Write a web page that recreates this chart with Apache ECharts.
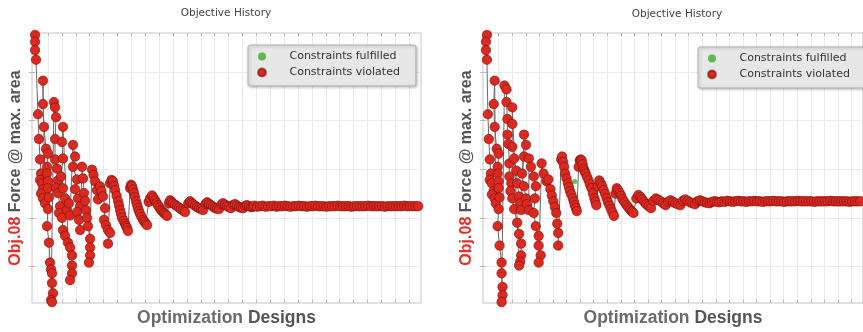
<!DOCTYPE html>
<html>
<head>
<meta charset="utf-8">
<title>Objective History</title>
<script src="https://cdn.jsdelivr.net/npm/echarts@6/dist/echarts.min.js"></script>
<style>
    html, body { margin: 0; padding: 0; background: #fff; }
    #chart { width: 863px; height: 332px; }
</style>
</head>
<body>
<div id="chart"></div>
<script>
// legend entries / axis ticks (no tick labels are shown in the original)
const legendNames = ['Constraints fulfilled', 'Constraints violated'];
const xTicks = [11.5, 21.5, 31.5, 41.5, 51.5, 61.5, 71.5, 81.5, 91.5, 101.5, 111.5, 121.5, 131.5, 141.5,
    151.5, 161.5, 171.5, 181.5, 191.5, 201.5, 211.5, 221.5, 231.5, 241.5, 251.5, 261.5, 271.5];
const yTicks = [1, 2, 3, 4, 5];

// left run: [design, objective]
const leftViolated = [
    [2.2,5.76],[2.2,5.62],[2.2,5.45],[2.9,5.25],[4.3,4.13],[5.0,3.62],[5.8,3.20],[6.5,2.91],[5.8,2.78],[7.2,2.71],[7.9,2.59],[6.5,2.50],[7.9,2.40],[9.4,2.30],
    [7.9,4.82],[7.9,4.34],[8.6,3.87],[10.1,3.42],[11.5,3.32],[10.8,3.05],[10.8,2.91],[11.5,2.75],[11.5,2.61],[12.2,2.42],[11.5,2.18],[10.8,1.83],[12.2,1.49],[13.0,1.08],[13.7,0.94],[14.4,0.86],[14.4,0.66],[15.1,0.45],[13.7,0.31],[14.4,0.27],
    [15.8,4.38],[16.6,4.27],[17.3,4.07],[16.6,3.62],[16.6,3.20],[18.0,3.01],[18.7,2.77],[17.3,2.62],[18.7,2.51],[20.2,2.24],[19.4,2.10],[21.6,2.00],[22.3,1.75],[23.8,1.63],[25.9,1.49],[27.4,1.39],[28.8,1.23],[28.8,1.02],[28.8,0.86],[27.4,0.72],
    [22.3,3.87],[21.6,3.56],[22.3,3.22],[20.9,2.85],[22.3,2.61],[23.8,2.40],[25.2,2.16],[26.6,2.30],[27.4,2.05],
    [29.5,3.50],[31.0,3.26],[29.5,3.05],[32.4,2.79],[31.0,2.59],[33.1,2.40],[34.6,2.24],[32.4,2.12],[33.8,1.96],[34.6,1.75],
    [36.0,3.05],[36.7,2.81],[37.4,2.51],[38.2,2.35],[38.9,2.16],[39.6,2.00],[40.3,1.83],[41.8,1.57],[41.8,1.39],[41.8,1.23],[41.0,1.08],
    [43.2,2.99],[44.3,2.88],[45.4,2.75],[46.8,2.57],[47.5,2.38],[49.0,2.65],[50.0,2.55],[51.1,2.44],[52.6,2.20],[51.8,1.96],[53.2,1.85],[54.7,1.75],[56.2,1.69],[54.7,1.47],
    [56.2,2.71],[57.2,2.78],[58.3,2.75],[59.1,2.66],[59.8,2.57],[60.9,2.45],[62.0,2.34],[62.7,2.25],[63.4,2.16],[64.1,2.08],[64.8,2.00],[65.9,1.94],[67.0,1.88],[67.7,1.83],[68.4,1.79],[69.1,1.73],
    [70.6,2.61],[71.3,2.68],[72.0,2.65],[72.7,2.58],[73.4,2.51],[74.1,2.43],[74.9,2.34],[75.6,2.27],[76.3,2.20],[77.0,2.14],[77.8,2.08],[78.8,2.02],[79.9,1.96],[81.0,1.92],[81.9,1.88],[82.8,1.85],
    [84.0,2.33],[85.0,2.40],[86.4,2.46],[87.5,2.41],[88.6,2.36],[89.6,2.31],[90.7,2.26],[91.8,2.21],[92.9,2.16],[94.0,2.13],[95.0,2.10],[96.1,2.07],[97.2,2.04],
    [98.5,2.30],[99.4,2.36],[100.4,2.33],[101.5,2.30],[102.9,2.27],[104.4,2.24],[105.8,2.21],[107.3,2.18],[108.7,2.15],[110.2,2.12],
    [112.5,2.30],[113.8,2.34],[114.8,2.31],[115.9,2.28],[117.3,2.25],[118.8,2.22],[120.2,2.20],[121.7,2.18],[123.1,2.16],
    [125.0,2.29],[126.0,2.32],[127.4,2.29],[128.9,2.26],[130.3,2.23],[131.8,2.20],[133.2,2.19],[134.6,2.18],
    [136.5,2.28],[137.5,2.30],[139.0,2.27],[140.4,2.24],[141.8,2.22],[143.3,2.20],
    [145.0,2.27],[146.2,2.28],[147.6,2.25],[149.0,2.22],[150.5,2.21],[152.0,2.20],
    [153.8,2.25],[154.8,2.26],[156.2,2.24],[157.7,2.22],[159.0,2.23],
    [160,2.25],[162,2.23],[164,2.24],[166,2.25],[168,2.23],[170,2.24],[172,2.24],[174,2.25],[176,2.23],[178,2.24],
    [180,2.24],[182,2.25],[184,2.24],[186,2.23],[188,2.24],[190,2.24],[192,2.25],[194,2.24],[196,2.24],[198,2.23],
    [200,2.24],[202,2.24],[204,2.25],[206,2.24],[208,2.24],[210,2.24],[212,2.23],[214,2.24],[216,2.24],[218,2.24],
    [220,2.25],[222,2.24],[224,2.24],[226,2.24],[228,2.24],[230,2.23],[232,2.24],[234,2.24],[236,2.24],[238,2.24],
    [240,2.24],[242,2.25],[244,2.24],[246,2.24],[248,2.24],[250,2.24],[252,2.24],[254,2.23],[256,2.24],[258,2.24],
    [260,2.24],[262,2.24],[264,2.24],[266,2.24],[268,2.25],[270,2.24],[272,2.24],[274,2.24],[276,2.24],[278,2.24]
];
const leftFulfilled = [];

// right run
const rightViolated = [
    [2.9,5.76],[2.2,5.62],[2.2,5.45],[2.9,5.25],[3.6,4.13],[4.3,3.62],[5.0,3.20],[5.8,2.91],[5.0,2.78],[6.5,2.71],[7.9,2.55],[6.5,2.48],[8.6,2.40],[9.4,2.30],
    [8.6,4.82],[7.9,4.34],[8.6,3.87],[10.1,3.42],[11.5,3.32],[10.8,3.05],[10.8,2.91],[11.5,2.75],[11.5,2.61],[12.2,2.42],[11.5,2.18],[10.8,1.83],[12.2,1.43],[13.7,1.08],[13.7,0.86],[14.4,0.58],[14.4,0.41],[13.7,0.27],
    [15.8,4.72],[17.3,4.64],[17.3,4.38],[18.0,4.03],[18.0,3.71],[18.7,3.52],[19.4,3.12],[19.4,2.85],[20.9,2.71],[20.2,2.55],[21.6,2.40],[23.0,2.18],[25.2,1.90],[26.6,1.67],[28.1,1.47],[28.1,1.23],[27.4,1.10],[26.6,1.02],
    [21.6,4.27],[21.6,3.93],[21.6,3.46],[23.0,3.22],[24.5,2.97],[25.2,2.71],[26.6,2.44],[27.4,2.30],[28.1,2.16],
    [30.2,3.71],[31.7,3.50],[30.2,3.26],[28.8,2.91],[30.2,2.65],[31.7,2.40],[32.4,2.28],[33.8,2.16],
    [33.8,3.22],[35.3,3.05],[37.4,2.85],[38.9,2.65],[38.2,2.40],[37.4,2.10],[38.9,1.83],[41.0,1.63],[41.0,1.43],[42.5,1.23],[41.0,1.08],
    [43.2,3.12],[44.6,2.91],[46.8,2.75],[48.2,2.79],[49.7,2.59],[50.7,2.46],[51.8,2.34],[53.0,2.22],[54.0,2.10],[54.7,1.88],[55.4,1.69],[55.4,1.43],
    [57.6,3.20],[58.3,3.26],[59.0,3.15],[59.8,3.05],[60.5,2.91],[61.5,2.81],[62.6,2.71],[63.3,2.63],[64.1,2.55],[65.1,2.48],[66.2,2.40],[67.0,2.33],[67.7,2.26],[68.4,2.20],[69.1,2.14],
    [70.5,3.05],[71.3,3.18],[72.0,3.20],[72.7,3.18],[73.4,3.10],[74.2,3.01],[74.9,2.96],[75.6,2.91],[76.7,2.84],[77.8,2.77],[78.8,2.69],[79.9,2.61],[81.0,2.50],[82.1,2.40],[82.8,2.33],[83.5,2.26],
    [84.6,2.65],[85.7,2.77],[86.8,2.71],[87.8,2.65],[88.9,2.57],[90.0,2.49],[91.1,2.40],[92.2,2.32],[93.3,2.25],[94.3,2.18],[95.4,2.11],[96.5,2.04],
    [97.6,2.50],[98.6,2.61],[99.7,2.56],[100.8,2.51],[101.8,2.45],[102.9,2.38],[104.3,2.32],[105.8,2.26],[107.2,2.21],[108.7,2.16],[109.8,2.13],[110.9,2.10],
    [113.0,2.40],[114.5,2.47],[116.0,2.43],[117.4,2.38],[118.8,2.33],[120.2,2.28],[122.0,2.24],[123.8,2.20],
    [125.6,2.35],[127.4,2.40],[129.2,2.37],[131.0,2.34],[132.8,2.30],[134.6,2.26],
    [136.4,2.33],[138.2,2.36],[140.0,2.33],[141.8,2.30],[143.6,2.28],[145.4,2.26],
    [147.2,2.35],[149.0,2.38],[150.8,2.35],[152.6,2.32],[154.4,2.30],[156.2,2.28],
    [158.0,2.34],[159.8,2.36],[161.6,2.34],[163.4,2.32],[165.2,2.31],[167.0,2.30],
    [168.8,2.33],[170.6,2.34],[172.4,2.33],[174.2,2.32],
    [176,2.34],[178,2.33],[180,2.35],[182,2.34],[184,2.33],[186,2.34],[188,2.35],[190,2.34],[192,2.34],[194,2.33],
    [196,2.34],[198,2.34],[200,2.35],[202,2.34],[204,2.34],[206,2.33],[208,2.34],[210,2.34],[212,2.34],[214,2.35],
    [216,2.34],[218,2.34],[220,2.34],[222,2.33],[224,2.34],[226,2.34],[228,2.34],[230,2.34],[232,2.35],[234,2.34],
    [236,2.34],[238,2.34],[240,2.34],[242,2.34],[244,2.33],[246,2.34],[248,2.34],[250,2.34],[252,2.34],[254,2.34],
    [256,2.35],[258,2.34],[260,2.34],[262,2.34],[264,2.34],[266,2.34],[268,2.34],[270,2.33],[272,2.34],[274,2.34],
    [276,2.34],[278,2.34]
];
const rightFulfilled = [[67.7, 2.75]];

const FONT = 'Liberation Sans, Arial, sans-serif';
const SMALL_FONT = 'DejaVu Sans, Verdana, sans-serif';
const RED = '#da2a20';
const GREEN = '#3fae2a';

// one panel = grid + 2 x axes (bottom/top) + 2 y axes (left/right)
function panelAxes(gridIndex) {
    const tick = { show: true, inside: true, length: 3, lineStyle: { color: '#b8b8b8' } };
    const xs = [
        {
            type: 'value', gridIndex: gridIndex, min: 0, max: 280,
            name: '{a|Optimization} {b|Designs}',
            nameLocation: 'middle', nameGap: 6,
            nameTextStyle: {
                fontSize: 17.5, fontFamily: FONT,
                rich: {
                    a: { fontSize: 17.5, fontWeight: 'bold', color: '#6a6a6a', fontFamily: FONT },
                    b: { fontSize: 17.5, fontWeight: 'bold', color: '#555', fontFamily: FONT }
                }
            },
            axisLine: { show: false },
            axisTick: Object.assign({ customValues: xTicks }, tick),
            axisLabel: { show: false },
            splitLine: { show: true, lineStyle: { color: '#ebebeb', width: 1 } }
        },
        {
            type: 'value', gridIndex: gridIndex, min: 0, max: 280, position: 'top',
            axisLine: { show: false },
            axisTick: Object.assign({ customValues: xTicks }, tick),
            axisLabel: { show: false },
            splitLine: { show: false }
        }
    ];
    const ys = [
        {
            type: 'value', gridIndex: gridIndex, min: 0.25, max: 5.8,
            name: '{r|Obj.08} {g|Force @ max. area}',
            nameLocation: 'middle', nameGap: 8,
            nameTextStyle: {
                fontSize: 16, fontFamily: FONT,
                rich: {
                    r: { fontSize: 16, fontWeight: 'bold', color: '#e2302b', fontFamily: FONT },
                    g: { fontSize: 16, fontWeight: 'bold', color: '#555', fontFamily: FONT }
                }
            },
            axisLine: { show: false },
            axisTick: Object.assign({ customValues: yTicks }, tick),
            axisLabel: { show: false },
            splitLine: { show: true, lineStyle: { color: '#ebebeb', width: 1 } }
        },
        {
            type: 'value', gridIndex: gridIndex, min: 0.25, max: 5.8, position: 'right',
            axisLine: { show: false },
            axisTick: Object.assign({ customValues: yTicks }, tick),
            axisLabel: { show: false },
            splitLine: { show: false }
        }
    ];
    return { xs: xs, ys: ys };
}

function panelLegend(left, top) {
    return {
        data: legendNames,
        orient: 'vertical',
        left: left, top: top,
        icon: 'circle',
        itemWidth: 24, itemHeight: 8, itemGap: 5,
        padding: [6, 16, 8, 9],
        backgroundColor: '#e7e7e7',
        borderColor: '#b3b3b3', borderWidth: 1, borderRadius: 2,
        shadowBlur: 3, shadowColor: 'rgba(0,0,0,0.25)', shadowOffsetX: 1, shadowOffsetY: 1,
        selectedMode: false,
        formatter: '   {name}',
        textStyle: { fontSize: 11, color: '#333', fontFamily: SMALL_FONT }
    };
}

function violatedSeries(data, axisIndex) {
    return {
        name: 'Constraints violated', type: 'line',
        xAxisIndex: axisIndex, yAxisIndex: axisIndex,
        data: data,
        symbol: 'circle', symbolSize: 9.5, showSymbol: true,
        lineStyle: { color: '#6a6a6a', width: 1 },
        itemStyle: { color: RED, borderColor: 'rgba(110,10,10,0.55)', borderWidth: 1 },
        emphasis: { disabled: true },
        z: 3
    };
}

function fulfilledSeries(data, axisIndex) {
    return {
        name: 'Constraints fulfilled', type: 'scatter',
        xAxisIndex: axisIndex, yAxisIndex: axisIndex,
        data: data,
        symbol: 'circle', symbolSize: 5,
        itemStyle: { color: GREEN },
        emphasis: { disabled: true },
        z: 4
    };
}

const chart = echarts.init(document.getElementById('chart'));
const leftAxes = panelAxes(0);
const rightAxes = panelAxes(1);

chart.setOption({
    animation: false,
    backgroundColor: '#fff',
    textStyle: { fontFamily: FONT },
    title: [
        { text: 'Objective History', left: 226, top: 8, padding: 0, textAlign: 'center',
          textStyle: { fontSize: 10.5, fontWeight: 'normal', color: '#444', fontFamily: SMALL_FONT } },
        { text: 'Objective History', left: 677, top: 9, padding: 0, textAlign: 'center',
          textStyle: { fontSize: 10.5, fontWeight: 'normal', color: '#444', fontFamily: SMALL_FONT } }
    ],
    legend: [panelLegend(248, 45), panelLegend(698, 47)],
    grid: [
        { left: 32, top: 33, width: 389, height: 273, show: true, borderColor: '#c6c6c6', borderWidth: 1, backgroundColor: '#fff' },
        { left: 483, top: 33, width: 389, height: 273, show: true, borderColor: '#c6c6c6', borderWidth: 1, backgroundColor: '#fff' }
    ],
    xAxis: leftAxes.xs.concat(rightAxes.xs),
    yAxis: leftAxes.ys.concat(rightAxes.ys),
    series: [
        violatedSeries(leftViolated, 0),
        fulfilledSeries(leftFulfilled, 0),
        violatedSeries(rightViolated, 2),
        fulfilledSeries(rightFulfilled, 2)
    ]
});
</script>
</body>
</html>
